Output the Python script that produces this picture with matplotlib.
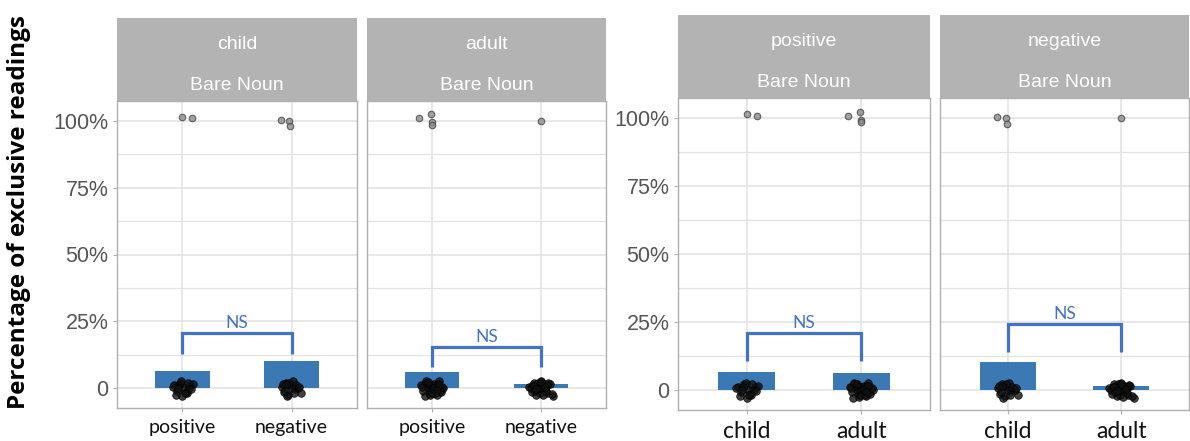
import matplotlib.pyplot as plt
from matplotlib.ticker import FixedLocator

W, H = 1190, 441
fig = plt.figure(figsize=(W / 100, H / 100), dpi=100)

# mean proportion of exclusive readings per group
bar_means = {
    ("child", "positive"): 0.065,
    ("child", "negative"): 0.101,
    ("adult", "positive"): 0.060,
    ("adult", "negative"): 0.015,
}

# individual participants that gave exclusive readings (near 100%), x jitter / y
high_dx = {
    ("child", "positive"): [0.00, 0.09],
    ("child", "negative"): [-0.10, -0.02, -0.01],
    ("adult", "positive"): [-0.12, -0.01, 0.00, 0.00],
    ("adult", "negative"): [0.00],
}
high_y = {
    ("child", "positive"): [1.015, 1.010],
    ("child", "negative"): [1.005, 1.000, 0.980],
    ("adult", "positive"): [1.010, 1.025, 0.995, 0.985],
    ("adult", "negative"): [1.000],
}

# participants at 0%, jittered
low_dx = {
    ("child", "positive"): [-0.08, -0.05, -0.02, 0.01, 0.04, 0.07, 0.10, -0.06, -0.01,
                            0.03, 0.06, -0.09, 0.00, 0.05, -0.03, 0.08, -0.04, 0.02],
    ("child", "negative"): [-0.09, -0.07, -0.05, -0.03, -0.01, 0.01, 0.03, 0.06, 0.09,
                            -0.08, -0.04, 0.00, 0.04, -0.06, -0.02, 0.02, 0.07, -0.05],
    ("adult", "positive"): [-0.10, -0.08, -0.06, -0.04, -0.02, 0.00, 0.02, 0.04, 0.06,
                            0.08, 0.10, -0.09, -0.07, -0.05, -0.03, -0.01, 0.01, 0.03,
                            0.05, 0.07, 0.09, -0.06, -0.02, 0.02, 0.06, 0.00, -0.04, 0.04],
    ("adult", "negative"): [-0.11, -0.08, -0.06, -0.04, -0.02, 0.00, 0.02, 0.04, 0.06,
                            0.08, 0.11, -0.09, -0.07, -0.05, -0.03, -0.01, 0.01, 0.03,
                            0.05, 0.07, 0.10, -0.06, -0.02, 0.02, 0.06, 0.00, -0.04, 0.04],
}
low_y = {
    ("child", "positive"): [0.010, -0.010, 0.020, 0.000, -0.020, 0.010, 0.015, -0.025, 0.025,
                            -0.015, 0.000, 0.005, -0.030, 0.020, 0.010, -0.005, 0.000, -0.020],
    ("child", "negative"): [0.005, -0.015, 0.020, -0.025, 0.010, 0.025, -0.005, 0.000, -0.020,
                            0.015, -0.030, 0.000, 0.010, -0.010, 0.020, -0.020, 0.005, 0.015],
    ("adult", "positive"): [0.010, -0.010, 0.020, 0.000, -0.020, 0.010, 0.015, -0.025, 0.025,
                            -0.015, 0.000, 0.005, -0.030, 0.020, 0.010, -0.005, 0.000, -0.020,
                            0.015, -0.010, 0.005, 0.025, -0.028, 0.000, 0.012, -0.018, 0.022, -0.008],
    ("adult", "negative"): [0.005, -0.015, 0.020, -0.025, 0.010, 0.025, -0.005, 0.000, -0.020,
                            0.015, -0.030, 0.000, 0.010, -0.010, 0.020, -0.020, 0.005, 0.015,
                            -0.012, 0.018, -0.022, 0.008, 0.000, -0.028, 0.012, 0.022, -0.004, 0.002],
}

# facet definitions: (strip title, category labels, group keys, bracket top, bracket legs)
facets = [
    ("child", ["positive", "negative"],
     [("child", "positive"), ("child", "negative")], 0.205, 0.127),
    ("adult", ["positive", "negative"],
     [("adult", "positive"), ("adult", "negative")], 0.154, 0.079),
    ("positive", ["child", "adult"],
     [("child", "positive"), ("adult", "positive")], 0.208, 0.107),
    ("negative", ["child", "adult"],
     [("child", "negative"), ("adult", "negative")], 0.242, 0.140),
]

# pixel boxes of the plotting areas: left, right, top, bottom
boxes = [(117, 357, 101, 408), (367, 606, 101, 408),
         (678, 930, 98, 410), (940, 1189, 98, 410)]
strip_h = 83

bar_color = "#3b79b4"
ns_color = "#4472c4"
grid_c = "#e2e2e2"
frame_c = "#b0b0b0"
strip_c = "#b3b3b3"
ylo, yhi = -0.075, 1.075

for i, ((title, cats, keys, btop, bleg), (l, r, t, b)) in enumerate(zip(facets, boxes)):
    ax = fig.add_axes([l / W, 1 - b / H, (r - l) / W, (b - t) / H])
    ax.set_xlim(0.4, 2.6)
    ax.set_ylim(ylo, yhi)

    ax.yaxis.set_major_locator(FixedLocator([0, 0.25, 0.5, 0.75, 1.0]))
    ax.yaxis.set_minor_locator(FixedLocator([0.125, 0.375, 0.625, 0.875]))
    ax.set_xticks([1, 2])
    ax.grid(True, which="major", color=grid_c, lw=1.1)
    ax.grid(True, which="minor", axis="y", color=grid_c, lw=0.9)
    ax.set_axisbelow(True)
    for s in ax.spines.values():
        s.set_color(frame_c)
        s.set_linewidth(1.0)

    xfs = 14 if i < 2 else 16.5
    ax.set_xticklabels(cats, family="Lato", fontsize=xfs, color="#111111")
    ax.tick_params(axis="x", length=3, color=frame_c, pad=5)
    ax.tick_params(axis="y", which="minor", length=0)
    if i in (0, 2):
        ax.set_yticklabels(["0", "25%", "50%", "75%", "100%"],
                           family="Liberation Sans", fontsize=15.5, color="#555555")
        ax.tick_params(axis="y", length=3, color=frame_c, pad=3)
    else:
        ax.tick_params(axis="y", length=0, labelleft=False)

    for j, key in enumerate(keys):
        x = j + 1
        ax.bar(x, bar_means[key], width=0.5, color=bar_color, zorder=2)
        ax.scatter([x + d for d in low_dx[key]], low_y[key], s=30, facecolor="#111111",
                   edgecolor="#000000", linewidths=0.6, alpha=0.8, zorder=3)
        ax.scatter([x + d for d in high_dx[key]], high_y[key], s=22, facecolor="#8a8a8a",
                   edgecolor="#444444", linewidths=0.8, alpha=0.8, zorder=3)

    # significance bracket
    ax.plot([1, 1, 2, 2], [bleg, btop, btop, bleg], color=ns_color, lw=2.3,
            solid_capstyle="butt", solid_joinstyle="miter", zorder=4)
    ax.text(1.5, btop + 0.008, "NS", ha="center", va="bottom", color=ns_color,
            family="Lato", fontsize=12.5)

    # facet strip
    sax = fig.add_axes([l / W, 1 - t / H, (r - l) / W, strip_h / H])
    sax.set_facecolor(strip_c)
    sax.set_xticks([])
    sax.set_yticks([])
    for s in sax.spines.values():
        s.set_visible(False)
    sax.text(0.5, 0.68, title, transform=sax.transAxes, ha="center", va="center",
             color="white", family="Liberation Sans", fontsize=14)
    sax.text(0.5, 0.19, "Bare Noun", transform=sax.transAxes, ha="center", va="center",
             color="white", family="Liberation Sans", fontsize=14)

fig.text(19 / W, 1 - 212 / H, "Percentage of exclusive readings", rotation=90,
         ha="center", va="center", family="Open Sans", fontweight="bold", fontsize=17.5)

fig.savefig("out.png", dpi=100)
